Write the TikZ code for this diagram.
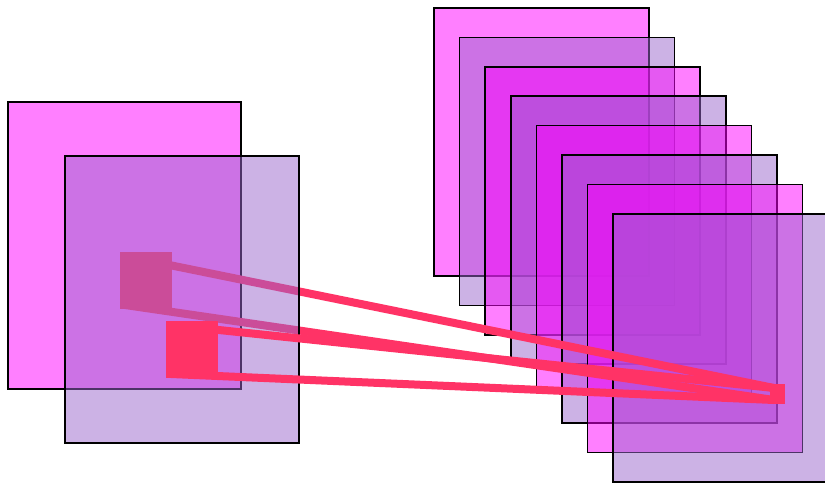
\documentclass[tikz,border=0pt]{standalone}
\usepackage{xcolor}
\usepackage{tikz}
\definecolor{Magenta}{HTML}{FF00FF}
\definecolor{Lavender}{HTML}{9966CC}
\definecolor{Rose}{HTML}{FF3366}
\tikzset{
  fmap/.style={draw=black,line width=1.6pt,inner sep=0pt,outer sep=0pt,
               anchor=north west,fill opacity=0.5},
  leftmap/.style={fmap,minimum width=233pt,minimum height=287pt},
  stackmap/.style={fmap,minimum width=215pt,minimum height=268pt},
  field/.style={fill=Rose,inner sep=0pt,outer sep=0pt,anchor=north west,
                minimum width=52pt,minimum height=57pt},
  unit/.style={fill=Rose,inner sep=0pt,outer sep=0pt,anchor=north west,
               minimum width=15pt,minimum height=20pt},
  ray/.style={draw=Rose,line width=8pt}
}

\begin{document}
\begin{tikzpicture}[x=1pt,y=-1pt]
  \clip (0,0) rectangle (825,483);

  % stack of output maps
  \foreach \i [evaluate=\i as \x using 434+25.6*\i,
               evaluate=\i as \y using 8+29.4*\i] in {0,...,7} {
    \ifodd\i \def\mapcol{Lavender}\else\def\mapcol{Magenta}\fi
    \node[stackmap,fill=\mapcol] (out\i) at (\x,\y) {};
  }
  \node[unit] (target) at (770,384) {};

  % input maps with receptive fields
  \node[leftmap,fill=Magenta] (in1) at (8,102) {};
  \node[field] (field1) at (120,252) {};
  \draw[ray] ([shift={(5pt,-4pt)}]field1.north west) -- ([shift={(4pt,-4pt)}]target.north west);
  \draw[ray] ([shift={(5pt,4pt)}]field1.south west) -- ([shift={(4pt,4pt)}]target.south west);
  \node[field] at (field1.north west) {};

  \node[leftmap,fill=Lavender,minimum width=234pt] (in2) at (65,156) {};
  \node[field] (field2) at (166,321) {};
  \draw[ray] ([shift={(5pt,-4pt)}]field2.north west) -- ([shift={(4pt,-4pt)}]target.north west);
  \draw[ray] ([shift={(5pt,4pt)}]field2.south west) -- ([shift={(4pt,4pt)}]target.south west);
  \node[unit] at (target.north west) {};
\end{tikzpicture}
\end{document}
